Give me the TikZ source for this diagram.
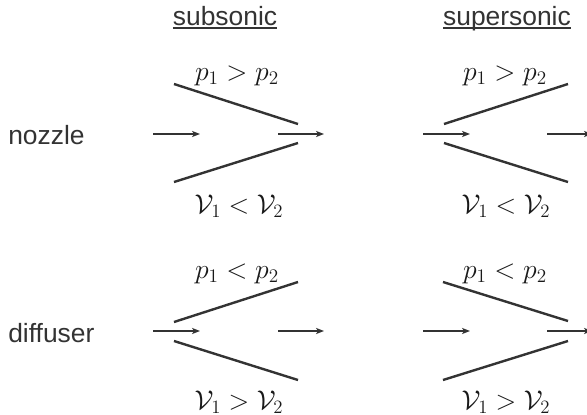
\documentclass[tikz,border=0pt]{standalone}
\usepackage{fontspec}
\setsansfont{Liberation Sans}
\usetikzlibrary{arrows.meta}
\definecolor{ink}{gray}{0.2}
\newsavebox{\ulbox}
\newcommand{\myul}[1]{\sbox{\ulbox}{#1}\rlap{\rule[-3pt]{\wd\ulbox}{1.4pt}}\usebox{\ulbox}}
\tikzset{
  wall/.style={line width=1.8pt,draw=ink},
  flow/.style={line width=0.95pt,draw=ink,-{Stealth[length=6pt,width=4.6pt,inset=1.6pt]}},
  lab/.style={inner sep=0pt,anchor=base,font=\sffamily\fontsize{19.8}{24}\selectfont,text=ink},
  eq/.style={inner sep=0pt,anchor=base,font=\fontsize{20}{24}\selectfont,text=black!90},
  eqv/.style={eq,scale=0.98}
}
\begin{document}
\begin{tikzpicture}[x=0.75pt,y=-0.75pt]
\useasboundingbox (0,0) rectangle (587,415);
\node[lab] (t1) at (225,25) {\myul{subsonic}};
\node[lab] (t2) at (507,25) {\myul{supersonic}};
\node[lab,anchor=base west] (r1) at (8,144) {nozzle};
\node[lab,anchor=base west] (r2) at (8,342) {diffuser};
\node[eq] (e1) at (237,80) {$p_1>p_2$};
\node[eq] (e2) at (505,80) {$p_1>p_2$};
\node[eqv] (e3) at (239,213) {$\mathcal{V}_1<\mathcal{V}_2$};
\node[eqv] (e4) at (506,213) {$\mathcal{V}_1<\mathcal{V}_2$};
\node[eq] (e5) at (237,278) {$p_1<p_2$};
\node[eq] (e6) at (505,278) {$p_1<p_2$};
\node[eqv] (e7) at (239,409) {$\mathcal{V}_1>\mathcal{V}_2$};
\node[eqv] (e8) at (506,409) {$\mathcal{V}_1>\mathcal{V}_2$};
% walls
\draw[wall] (174,84) -- (298,124);
\draw[wall] (174,182) -- (298,143);
\draw[wall] (444,124) -- (568,84);
\draw[wall] (444,143) -- (568,182);
\draw[wall] (174,322) -- (298,282);
\draw[wall] (174,341) -- (298,380);
\draw[wall] (443,282) -- (568,321);
\draw[wall] (443,380) -- (568,341);
% arrows
\coordinate (a1) at (153,134); \coordinate (b1) at (200,134);
\coordinate (a2) at (278,134); \coordinate (b2) at (324,134);
\coordinate (a3) at (423,134); \coordinate (b3) at (470,134);
\coordinate (a4) at (547,134); \coordinate (b4) at (592,134);
\coordinate (a5) at (153,331); \coordinate (b5) at (200,331);
\coordinate (a6) at (278,331); \coordinate (b6) at (324,331);
\coordinate (a7) at (423,331); \coordinate (b7) at (470,331);
\coordinate (a8) at (547,331); \coordinate (b8) at (592,331);
\draw[flow] (a1) -- (b1);
\draw[flow] (a2) -- (b2);
\draw[flow] (a3) -- (b3);
\draw[flow] (a4) -- (b4);
\draw[flow] (a5) -- (b5);
\draw[flow] (a6) -- (b6);
\draw[flow] (a7) -- (b7);
\draw[flow] (a8) -- (b8);
\end{tikzpicture}
\end{document}
